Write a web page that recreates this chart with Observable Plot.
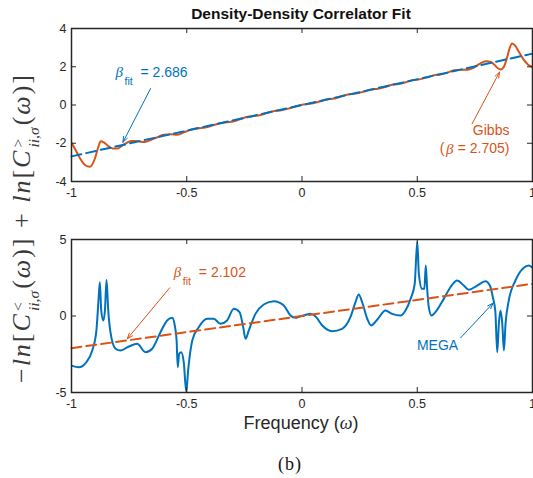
<!DOCTYPE html>
<html>
<head>
<meta charset="utf-8">
<script src="https://cdn.jsdelivr.net/npm/d3@7"></script>
<script src="https://cdn.jsdelivr.net/npm/@observablehq/plot@0.6"></script>
<style>
  html, body { margin: 0; padding: 0; background: #fff; }
  #wrap { position: relative; width: 533px; height: 478px; overflow: hidden; font-family: "Liberation Sans", Arial, sans-serif; }
  .abs { position: absolute; white-space: nowrap; }
  #title { left: 301px; top: 14px; transform: translate(-50%, -50%); font-weight: bold; font-size: 15.5px; color: #111; }
  #xlab { left: 301px; top: 423px; transform: translate(-50%, -50%); font-size: 18px; color: #262626; }
  #xlab i { font-family: "Liberation Serif", serif; }
  #blab { left: 290px; top: 464px; transform: translate(-50%, -50%); font-family: "Liberation Serif", serif; font-size: 18px; letter-spacing: 1px; color: #111; }
  #ylab { left: 24px; top: 228px; transform: translate(-50%, -50%) rotate(-90deg); font-family: "Liberation Serif", "DejaVu Serif", serif; font-size: 26px; letter-spacing: 2px; color: #3a3a3a; }
  .ss { display: inline-flex; flex-direction: column; vertical-align: 0.42em; font-size: 0.6em; line-height: 1.0; margin: 0 2px 0 1px; letter-spacing: 0; }
  .ss .sp { text-align: left; }
  #p1 { position: absolute; left: 0; top: 0; }
  #p2 { position: absolute; left: 0; top: 200px; }
</style>
</head>
<body>
<div id="wrap">
  <div id="p1"></div>
  <div id="p2"></div>
  <div id="title" class="abs">Density-Density Correlator Fit</div>
  <div id="xlab" class="abs">Frequency (<i>ω</i>)</div>
  <div id="blab" class="abs">(b)</div>
  <div id="ylab" class="abs">−<i>ln</i>[<i>C</i><span class="ss"><span class="sp">&lt;</span><span class="sp"><i>ii,σ</i></span></span>(<i>ω</i>)] + <i>ln</i>[<i>C</i><span class="ss"><span class="sp">&gt;</span><span class="sp"><i>ii,σ</i></span></span>(<i>ω</i>)]</div>
</div>
<script>
// ---------- data ----------
const xTicks = [-1, -0.5, 0, 0.5, 1];
const yTicksTop = [-4, -2, 0, 2, 4];
const yTicksBottom = [-5, 0, 5];

// Gibbs curve (top panel)
const gibbsW = [-1.00,-0.98,-0.96,-0.94,-0.92,-0.90,-0.885,-0.873,-0.86,-0.84,-0.82,-0.80,-0.78,-0.76,-0.74,-0.72,-0.70,-0.68,-0.66,-0.63,-0.60,-0.57,-0.54,-0.51,-0.48,-0.45,-0.42,-0.39,-0.36,-0.33,-0.30,-0.27,-0.24,-0.21,-0.18,-0.15,-0.12,-0.09,-0.06,-0.03,0.00,0.03,0.06,0.09,0.12,0.15,0.18,0.21,0.24,0.27,0.30,0.33,0.36,0.39,0.42,0.45,0.48,0.51,0.54,0.57,0.60,0.63,0.66,0.69,0.72,0.74,0.76,0.78,0.80,0.82,0.835,0.85,0.862,0.875,0.89,0.90,0.912,0.925,0.94,0.96,0.98,1.00];
const gibbsV = [-1.98,-2.40,-2.85,-3.15,-3.23,-2.85,-2.25,-1.90,-1.95,-2.15,-2.28,-2.28,-2.12,-1.98,-1.88,-1.88,-1.92,-1.93,-1.85,-1.70,-1.56,-1.53,-1.55,-1.42,-1.28,-1.22,-1.18,-1.08,-0.97,-0.90,-0.86,-0.75,-0.63,-0.58,-0.52,-0.41,-0.31,-0.27,-0.19,-0.08,0.01,0.06,0.13,0.24,0.31,0.37,0.49,0.57,0.61,0.71,0.81,0.85,0.94,1.06,1.10,1.19,1.30,1.34,1.43,1.55,1.60,1.68,1.82,1.84,1.84,1.92,2.07,2.22,2.29,2.24,2.10,1.92,1.86,1.98,2.50,2.95,3.22,3.10,2.80,2.40,2.12,1.98];
// Fit line (top panel), beta_fit = 2.686
const fitTopW = [-1, 1];
const fitTopV = [-2.686, 2.686];

// MEGA curve (bottom panel)
const megaW = [-1.00,-0.968,-0.939,-0.910,-0.892,-0.882,-0.877,-0.871,-0.862,-0.855,-0.848,-0.841,-0.831,-0.809,-0.787,-0.751,-0.715,-0.679,-0.650,-0.614,-0.585,-0.563,-0.552,-0.544,-0.539,-0.533,-0.524,-0.513,-0.502,-0.494,-0.476,-0.448,-0.411,-0.383,-0.354,-0.325,-0.296,-0.271,-0.255,-0.245,-0.231,-0.202,-0.166,-0.122,-0.079,-0.050,-0.028,-0.010,0.010,0.037,0.059,0.088,0.131,0.174,0.210,0.232,0.246,0.261,0.283,0.300,0.326,0.362,0.391,0.427,0.449,0.471,0.489,0.500,0.507,0.521,0.531,0.537,0.543,0.550,0.562,0.579,0.615,0.644,0.673,0.702,0.724,0.760,0.796,0.815,0.828,0.839,0.847,0.854,0.861,0.869,0.876,0.883,0.897,0.926,0.962,0.984,1.00];
const megaV = [-3.24,-3.35,-3.08,-2.25,-0.95,1.23,2.21,0.36,-0.29,0.36,2.36,0.47,-1.06,-2.14,-2.25,-1.99,-1.82,-2.37,-2.14,-1.06,-0.29,-0.12,-0.62,-1.60,-3.35,-2.47,-2.37,-3.02,-4.95,-3.56,-1.60,-0.73,-0.18,-0.18,-0.51,-0.29,0.47,0.25,-0.73,-1.49,-0.95,0.14,0.75,0.97,0.69,0.03,-0.12,-0.03,0.05,0.14,-0.03,-0.62,-0.99,-0.84,-0.08,0.90,1.41,0.90,-0.18,-0.62,-0.25,0.36,0.14,0.03,0.36,1.12,2.10,4.85,2.76,1.78,1.78,3.30,1.78,0.58,0.03,0.25,1.12,1.88,2.32,1.99,1.71,1.99,2.27,1.99,1.23,0.25,-2.37,-0.51,0.36,-0.51,-2.25,-0.51,1.01,2.32,3.15,3.30,3.15];
// Fit line (bottom panel), beta_fit = 2.102
const fitBotW = [-1, 1];
const fitBotV = [-2.102, 2.102];

// Annotations (data coordinates)
const annTopFit = {x: -0.809, y: 1.70, beta: "β", sub: "fit", rest: "= 2.686"};
const arrowTop = [{x1: -0.657, y1: 0.86, x2: -0.777, y2: -1.95}];
const annGibbs = [{x: 0.900, y: -1.33, t: "Gibbs"}];
const annGibbsBeta = {x: 0.900, y: -2.29, rest: " = 2.705)", beta: "β", open: "("};
const arrowGibbs = [{x1: 0.738, y1: -0.98, x2: 0.857, y2: 1.72}];

const annBotFit = {x: -0.556, y: 2.86, beta: "β", sub: "fit", rest: "= 2.102"};
const arrowBot = [{x1: -0.574, y1: 1.84, x2: -0.758, y2: -1.49}];
const annMega = [{x: 0.588, y: -1.93, t: "MEGA"}];
const arrowMega = [{x1: 0.688, y1: -1.43, x2: 0.829, y2: 0.84}];

// ---------- style ----------
const BLUE = "#0072BD";
const ORANGE = "#D95319";
const AX = "#262626";
const W = 533, ML = 71, MR = 1;
const PH = 153; // plot area height
const PW = W - ML - MR;
const TL = 5; // inward tick length
const sans = "Liberation Sans, Arial, sans-serif";
const serif = "Liberation Serif, DejaVu Serif, serif";

function frameMarks(yTicks) {
  return [
    Plot.ruleX(xTicks, {x: d => d, stroke: AX, strokeWidth: 1, insetTop: PH - TL}),
    Plot.ruleX(xTicks, {x: d => d, stroke: AX, strokeWidth: 1, insetBottom: PH - TL}),
    Plot.ruleY(yTicks, {y: d => d, stroke: AX, strokeWidth: 1, insetRight: PW - TL}),
    Plot.ruleY(yTicks, {y: d => d, stroke: AX, strokeWidth: 1, insetLeft: PW - TL}),
    Plot.frame({stroke: AX, strokeWidth: 1.5}),
    Plot.axisX({ticks: xTicks, tickSize: 0, tickPadding: 7, tickFormat: d => String(d), fill: AX, fontSize: 12.5, label: null}),
    Plot.axisY({ticks: yTicks, tickSize: 0, tickPadding: 5, tickFormat: d => String(d), fill: AX, fontSize: 12.5, label: null})
  ];
}

function betaLabel(a, color) {
  return [
    Plot.text([a], {x: "x", y: "y", text: "beta", textAnchor: "start", fill: color, fontSize: 15, fontStyle: "italic", fontFamily: serif}),
    Plot.text([a], {x: "x", y: "y", text: "sub", textAnchor: "start", dx: 9, dy: 9, fill: color, fontSize: 10.5, fontFamily: sans}),
    Plot.text([a], {x: "x", y: "y", text: "rest", textAnchor: "start", dx: 25, fill: color, fontSize: 14, fontFamily: sans})
  ];
}

const common = {
  width: W, height: 200, marginLeft: ML, marginRight: MR,
  x: {domain: [-1, 1]},
  style: {fontFamily: sans, fontSize: "12px", background: "transparent", overflow: "visible"}
};

const topPlot = Plot.plot({
  ...common,
  marginTop: 28, marginBottom: 19,
  y: {domain: [-4, 4]},
  marks: [
    Plot.line(gibbsV, {x: gibbsW, y: gibbsV, stroke: ORANGE, strokeWidth: 2, curve: "monotone-x", clip: true}),
    Plot.line(fitTopV, {x: fitTopW, y: fitTopV, stroke: BLUE, strokeWidth: 2, strokeDasharray: "10,5"}),
    Plot.arrow(arrowTop, {x1: "x1", y1: "y1", x2: "x2", y2: "y2", stroke: BLUE, strokeWidth: 1, headLength: 9, headAngle: 40}),
    Plot.arrow(arrowGibbs, {x1: "x1", y1: "y1", x2: "x2", y2: "y2", stroke: ORANGE, strokeWidth: 1, headLength: 9, headAngle: 40}),
    ...betaLabel(annTopFit, BLUE),
    Plot.text(annGibbs, {x: "x", y: "y", text: "t", textAnchor: "end", fill: ORANGE, fontSize: 14, fontFamily: sans}),
    Plot.text([annGibbsBeta], {x: "x", y: "y", text: "rest", textAnchor: "end", fill: ORANGE, fontSize: 14, fontFamily: sans}),
    Plot.text([annGibbsBeta], {x: "x", y: "y", text: "beta", textAnchor: "end", dx: -56, fill: ORANGE, fontSize: 15, fontStyle: "italic", fontFamily: serif}),
    Plot.text([annGibbsBeta], {x: "x", y: "y", text: "open", textAnchor: "end", dx: -65, fill: ORANGE, fontSize: 14, fontFamily: sans}),
    ...frameMarks(yTicksTop)
  ]
});
document.getElementById("p1").append(topPlot);

const botPlot = Plot.plot({
  ...common,
  height: 210, marginTop: 39, marginBottom: 18,
  y: {domain: [-5, 5]},
  marks: [
    Plot.line(megaV, {x: megaW, y: megaV, stroke: BLUE, strokeWidth: 2, curve: "monotone-x", clip: true}),
    Plot.line(fitBotV, {x: fitBotW, y: fitBotV, stroke: ORANGE, strokeWidth: 2, strokeDasharray: "10,5"}),
    Plot.arrow(arrowBot, {x1: "x1", y1: "y1", x2: "x2", y2: "y2", stroke: ORANGE, strokeWidth: 1, headLength: 9, headAngle: 40}),
    Plot.arrow(arrowMega, {x1: "x1", y1: "y1", x2: "x2", y2: "y2", stroke: BLUE, strokeWidth: 1, headLength: 9, headAngle: 40}),
    ...betaLabel(annBotFit, ORANGE),
    Plot.text(annMega, {x: "x", y: "y", text: "t", fill: BLUE, fontSize: 14, fontFamily: sans}),
    ...frameMarks(yTicksBottom)
  ]
});
document.getElementById("p2").append(botPlot);
</script>
</body>
</html>
